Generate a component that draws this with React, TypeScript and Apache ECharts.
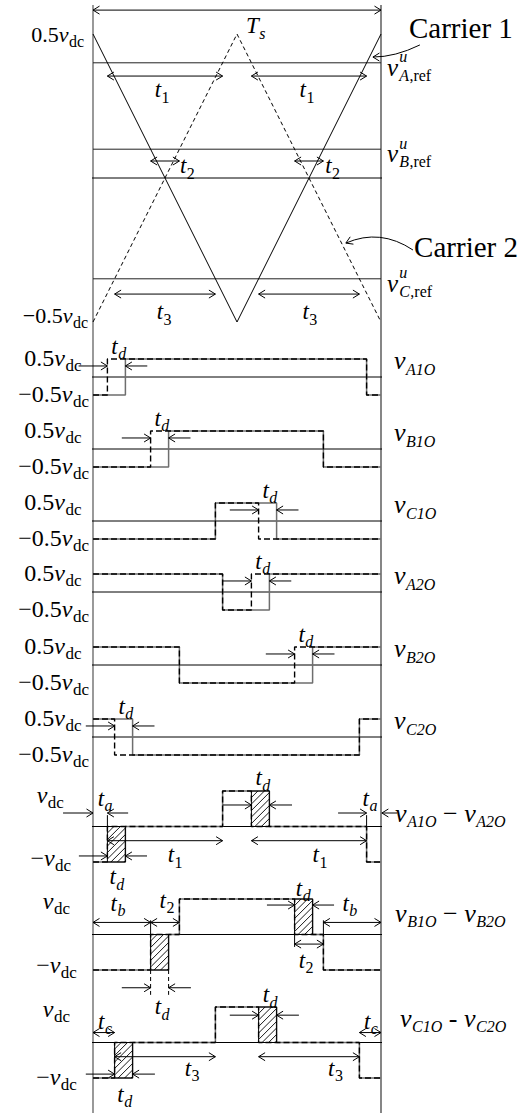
import React, { useEffect, useRef } from "react";
import * as echarts from "echarts";

const FAM = "'Liberation Serif', 'Times New Roman', serif";
const PAGE_W = 523;
const PAGE_H = 1113;

// ---------------- data (normalised time 0..Ts = 0..1) ----------------
const carrierTime = [0, 0.5, 1];
const carrier1 = [0.5, -0.5, 0.5];
const carrier2 = [-0.5, 0.5, -0.5];
const refNames = ["A", "B", "C"];
const refLevels = [0.4, 0.1, -0.35];

const A1O_ideal = [[0, -0.5], [0.05, -0.5], [0.05, 0.5], [0.95, 0.5], [0.95, -0.5], [1, -0.5]];
const A1O_actual = [[0, -0.5], [0.1125, -0.5], [0.1125, 0.5], [0.95, 0.5], [0.95, -0.5], [1, -0.5]];
const B1O_ideal = [[0, -0.5], [0.2, -0.5], [0.2, 0.5], [0.8, 0.5], [0.8, -0.5], [1, -0.5]];
const B1O_actual = [[0, -0.5], [0.2625, -0.5], [0.2625, 0.5], [0.8, 0.5], [0.8, -0.5], [1, -0.5]];
const C1O_ideal = [[0, -0.5], [0.425, -0.5], [0.425, 0.5], [0.575, 0.5], [0.575, -0.5], [1, -0.5]];
const C1O_actual = [[0, -0.5], [0.425, -0.5], [0.425, 0.5], [0.6375, 0.5], [0.6375, -0.5], [1, -0.5]];
const A2O_ideal = [[0, 0.5], [0.45, 0.5], [0.45, -0.5], [0.55, -0.5], [0.55, 0.5], [1, 0.5]];
const A2O_actual = [[0, 0.5], [0.45, 0.5], [0.45, -0.5], [0.6125, -0.5], [0.6125, 0.5], [1, 0.5]];
const B2O_ideal = [[0, 0.5], [0.3, 0.5], [0.3, -0.5], [0.7, -0.5], [0.7, 0.5], [1, 0.5]];
const B2O_actual = [[0, 0.5], [0.3, 0.5], [0.3, -0.5], [0.7625, -0.5], [0.7625, 0.5], [1, 0.5]];
const C2O_ideal = [[0, 0.5], [0.075, 0.5], [0.075, -0.5], [0.925, -0.5], [0.925, 0.5], [1, 0.5]];
const C2O_actual = [[0, 0.5], [0.1375, 0.5], [0.1375, -0.5], [0.925, -0.5], [0.925, 0.5], [1, 0.5]];

const phaseNames = ["A1O", "B1O", "C1O", "A2O", "B2O", "C2O"];
const idealEdges = [0.05, 0.2, 0.575, 0.55, 0.7, 0.075];
const actualEdges = [0.1125, 0.2625, 0.6375, 0.6125, 0.7625, 0.1375];

const dA_ideal = [[0, -1], [0.05, -1], [0.05, 0], [0.45, 0], [0.45, 1], [0.55, 1], [0.55, 0], [0.95, 0], [0.95, -1], [1, -1]];
const dA_actual = [[0, -1], [0.1125, -1], [0.1125, 0], [0.45, 0], [0.45, 1], [0.6125, 1], [0.6125, 0], [0.95, 0], [0.95, -1], [1, -1]];
const dB_ideal = [[0, -1], [0.2, -1], [0.2, 0], [0.3, 0], [0.3, 1], [0.7, 1], [0.7, 0], [0.8, 0], [0.8, -1], [1, -1]];
const dB_actual = [[0, -1], [0.2625, -1], [0.2625, 0], [0.3, 0], [0.3, 1], [0.7625, 1], [0.7625, 0], [0.8, 0], [0.8, -1], [1, -1]];
const dC_ideal = [[0, -1], [0.075, -1], [0.075, 0], [0.425, 0], [0.425, 1], [0.575, 1], [0.575, 0], [0.925, 0], [0.925, -1], [1, -1]];
const dC_actual = [[0, -1], [0.1375, -1], [0.1375, 0], [0.425, 0], [0.425, 1], [0.6375, 1], [0.6375, 0], [0.925, 0], [0.925, -1], [1, -1]];

const hatchA = [[0.05, 0.1125, -1, 0], [0.55, 0.6125, 0, 1]];
const hatchB = [[0.2, 0.2625, -1, 0], [0.7, 0.7625, 0, 1]];
const hatchC = [[0.075, 0.1375, -1, 0], [0.575, 0.6375, 0, 1]];

const phaseIdeal = [A1O_ideal, B1O_ideal, C1O_ideal, A2O_ideal, B2O_ideal, C2O_ideal];
const phaseActual = [A1O_actual, B1O_actual, C1O_actual, A2O_actual, B2O_actual, C2O_actual];
const diffIdeal = [dA_ideal, dB_ideal, dC_ideal];
const diffActual = [dA_actual, dB_actual, dC_actual];

// ---------------- layout ----------------
const X0 = 93;
const XW = 288;
const carrierTop = 34;
const carrierH = 288;
const phaseTop = [359, 431, 503, 574, 647, 719];
const phaseH = 36;
const diffTop = [791, 899, 1007];
const diffH = 71;
const axisExt = [-0.25, 1.253];
const frameTop = 0.9955;

const LM = 24; // left-label main size
const LS = 17; // left-label subscript size
const TM = 23; // time-label main size
const TS = 16; // time-label subscript size

type Part = [string, string];
type Ann =
  | { k: "arrow"; a: number[]; b: number[]; both?: boolean }
  | { k: "text"; at: number[]; parts: Part[]; M: number; S: number; align: "left" | "right" | "center" }
  | { k: "hatch"; r: number[] }
  | { k: "line"; a: number[]; b: number[]; dash?: boolean }
  | { k: "curve"; a: number[]; cp: number[]; b: number[] };

const P_HI: Part[] = [["0.5", "r"], ["v", "i"], ["dc", "b"]];
const P_LO: Part[] = [["\u22120.5", "r"], ["v", "i"], ["dc", "b"]];
const P_VDC: Part[] = [["v", "i"], ["dc", "b"]];
const P_MVDC: Part[] = [["\u2212", "r"], ["v", "i"], ["dc", "b"]];
const tsub = (s: string, it = true): Part[] => [["t", "i"], [s, it ? "ib" : "b"]];

let measureCtx: CanvasRenderingContext2D | null = null;
function measure(s: string, font: string) {
  if (!measureCtx) measureCtx = document.createElement("canvas").getContext("2d");
  if (!measureCtx) return s.length * 8;
  measureCtx.font = font;
  return measureCtx.measureText(s).width;
}

function buildText(x: number, y: number, parts: Part[], M: number, S: number, align: string) {
  const items: any[] = [];
  let cx = 0;
  let supStart: number | null = null;
  let supEnd = 0;
  for (const [s, st] of parts) {
    const it = st.includes("i");
    const sub = st.includes("b");
    const sup = st.includes("p");
    const size = sub || sup ? S : M;
    const font = `${it ? "italic " : ""}${size}px ${FAM}`;
    const w = measure(s, font);
    let px = cx;
    let dy = 0;
    if (sup) {
      px = cx + 1;
      supStart = px;
      supEnd = px + w;
      dy = -0.42 * M;
      cx = supEnd;
    } else if (sub) {
      if (supStart !== null) {
        px = supStart;
        cx = Math.max(supEnd, px + w);
        supStart = null;
      } else {
        px = cx + 0.5;
        cx = px + w;
      }
      dy = 0.32 * M;
    } else {
      px = cx;
      cx = px + w;
    }
    items.push({ s, px, dy, size, it });
  }
  const W = cx;
  const off = align === "right" ? -W : align === "center" ? -W / 2 : 0;
  return items.map((p) => ({
    type: "text",
    x: x + off + p.px,
    y: y + p.dy,
    silent: true,
    style: {
      text: p.s,
      fontSize: p.size,
      fontFamily: FAM,
      fontStyle: p.it ? "italic" : "normal",
      fill: "#000",
      align: "left",
      verticalAlign: "middle",
    },
  }));
}

function seg(x1: number, y1: number, x2: number, y2: number, w = 1, dash?: number[], color = "#000") {
  return {
    type: "line",
    silent: true,
    shape: { x1, y1, x2, y2 },
    style: { stroke: color, lineWidth: w, lineDash: dash, fill: "none" },
  };
}

function head(out: any[], tip: number[], from: number[]) {
  const dx = tip[0] - from[0];
  const dy = tip[1] - from[1];
  const L = Math.hypot(dx, dy) || 1;
  const ux = dx / L;
  const uy = dy / L;
  const hl = 6.5;
  const hw = 4;
  const bx = tip[0] - ux * hl;
  const by = tip[1] - uy * hl;
  out.push(seg(tip[0], tip[1], bx - uy * hw, by + ux * hw));
  out.push(seg(tip[0], tip[1], bx + uy * hw, by - ux * hw));
}

function makeRender(list: Ann[]) {
  return (_params: any, api: any) => {
    const c = (p: number[]) => api.coord(p) as number[];
    const out: any[] = [];
    for (const a of list) {
      if (a.k === "arrow") {
        const p1 = c(a.a);
        const p2 = c(a.b);
        out.push(seg(p1[0], p1[1], p2[0], p2[1]));
        head(out, p2, p1);
        if (a.both) head(out, p1, p2);
      } else if (a.k === "line") {
        const p1 = c(a.a);
        const p2 = c(a.b);
        out.push(seg(p1[0], p1[1], p2[0], p2[1], 1, a.dash ? [4, 3] : undefined));
      } else if (a.k === "curve") {
        const p1 = c(a.a);
        const cp = c(a.cp);
        const p2 = c(a.b);
        out.push({
          type: "bezierCurve",
          silent: true,
          shape: { x1: p1[0], y1: p1[1], x2: p2[0], y2: p2[1], cpx1: cp[0], cpy1: cp[1] },
          style: { stroke: "#000", lineWidth: 1, fill: "none" },
        });
        head(out, p2, cp);
      } else if (a.k === "hatch") {
        const [t0, t1, v0, v1] = a.r;
        const tl = c([t0, v1]);
        const br = c([t1, v0]);
        const x0 = tl[0], y0 = tl[1], x1 = br[0], y1 = br[1];
        out.push({
          type: "rect",
          silent: true,
          shape: { x: x0, y: y0, width: x1 - x0, height: y1 - y0 },
          style: { stroke: "#000", lineWidth: 1, fill: "none" },
        });
        const s = 6.5;
        for (let k = x0 + y0 + s; k < x1 + y1; k += s) {
          const xa = Math.max(x0, k - y1);
          const xb = Math.min(x1, k - y0);
          if (xb > xa) out.push(seg(xa, k - xa, xb, k - xb, 0.9));
        }
      } else if (a.k === "text") {
        const p = c(a.at);
        out.push(...buildText(p[0], p[1], a.parts, a.M, a.S, a.align));
      }
    }
    return { type: "group", children: out };
  };
}

// ---------------- annotations ----------------
const refParts = (n: string): Part[] => [["v", "i"], ["u", "ip"], [n, "ib"], [",ref", "b"]];

const ann0: Ann[] = [
  { k: "arrow", a: [0, 0.583], b: [1, 0.583], both: true },
  { k: "text", at: [0.531, 0.528], parts: [["T", "i"], ["s", "ib"]], M: TM, S: TS, align: "left" },
  { k: "text", at: [-0.031, 0.497], parts: P_HI, M: 22, S: 16, align: "right" },
  { k: "text", at: [-0.017, -0.476], parts: P_LO, M: 22, S: 16, align: "right" },
  { k: "arrow", a: [0.05, 0.354], b: [0.45, 0.354], both: true },
  { k: "arrow", a: [0.55, 0.354], b: [0.95, 0.354], both: true },
  { k: "arrow", a: [0.2, 0.059], b: [0.3, 0.059], both: true },
  { k: "arrow", a: [0.7, 0.059], b: [0.8, 0.059], both: true },
  { k: "arrow", a: [0.075, -0.403], b: [0.425, -0.403], both: true },
  { k: "arrow", a: [0.575, -0.403], b: [0.925, -0.403], both: true },
  { k: "text", at: [0.24, 0.306], parts: tsub("1", false), M: TM, S: TS, align: "center" },
  { k: "text", at: [0.743, 0.306], parts: tsub("1", false), M: TM, S: TS, align: "center" },
  { k: "text", at: [0.302, 0.042], parts: tsub("2", false), M: TM, S: TS, align: "left" },
  { k: "text", at: [0.806, 0.042], parts: tsub("2", false), M: TM, S: TS, align: "left" },
  { k: "text", at: [0.247, -0.465], parts: tsub("3", false), M: TM, S: TS, align: "center" },
  { k: "text", at: [0.753, -0.465], parts: tsub("3", false), M: TM, S: TS, align: "center" },
  ...refLevels.map((lv, i) => ({
    k: "text" as const,
    at: [1.021, lv - 0.015],
    parts: refParts(refNames[i]),
    M: 25,
    S: 16,
    align: "left" as const,
  })),
  { k: "text", at: [1.097, 0.521], parts: [["Carrier 1", "r"]], M: 29, S: 20, align: "left" },
  { k: "text", at: [1.115, -0.24], parts: [["Carrier 2", "r"]], M: 29, S: 20, align: "left" },
  { k: "curve", a: [1.135, 0.462], cp: [1.049, 0.42], b: [0.972, 0.42] },
  { k: "curve", a: [1.111, -0.25], cp: [0.997, -0.174], b: [0.878, -0.226] },
];

const phaseAnns: Ann[][] = phaseNames.map((nm, i) => {
  const ti = idealEdges[i];
  const ta = actualEdges[i];
  return [
    { k: "arrow", a: [ti - 0.1, 0.306], b: [ti, 0.306] },
    { k: "arrow", a: [ta + 0.076, 0.306], b: [ta, 0.306] },
    { k: "text", at: [(ti + ta) / 2 + 0.008, 0.85], parts: tsub("d"), M: TM, S: TS, align: "center" },
    { k: "text", at: [1.045, 0.45], parts: [["v", "i"], [nm, "ib"]], M: 26, S: 16, align: "left" },
    { k: "text", at: [-0.04, 0.53], parts: P_HI, M: LM, S: LS, align: "right" },
    { k: "text", at: [-0.014, -0.47], parts: P_LO, M: LM, S: LS, align: "right" },
  ] as Ann[];
});

const diffLabel = (a: string, b: string, op: string): Part[] => [
  ["v", "i"], [a, "ib"], [op, "r"], ["v", "i"], [b, "ib"],
];

const annA: Ann[] = [
  { k: "arrow", a: [-0.104, 0.38], b: [0, 0.38] },
  { k: "arrow", a: [0.122, 0.38], b: [0.05, 0.38] },
  { k: "arrow", a: [0.851, 0.38], b: [0.95, 0.38] },
  { k: "arrow", a: [1.056, 0.38], b: [1.003, 0.38] },
  { k: "arrow", a: [0.451, 0.606], b: [0.55, 0.606] },
  { k: "arrow", a: [0.691, 0.606], b: [0.6125, 0.606] },
  { k: "arrow", a: [-0.049, -0.83], b: [0.05, -0.83] },
  { k: "arrow", a: [0.1875, -0.83], b: [0.1125, -0.83] },
  { k: "arrow", a: [0.05, -0.4], b: [0.45, -0.4], both: true },
  { k: "arrow", a: [0.55, -0.4], b: [0.95, -0.4], both: true },
  { k: "line", a: [0.05, 0], b: [0.05, 0.32] },
  { k: "line", a: [0.95, 0], b: [0.95, 0.32] },
  { k: "text", at: [0.042, 0.8], parts: tsub("a"), M: TM, S: TS, align: "center" },
  { k: "text", at: [0.962, 0.8], parts: tsub("a"), M: TM, S: TS, align: "center" },
  { k: "text", at: [0.59, 1.37], parts: tsub("d"), M: TM, S: TS, align: "center" },
  { k: "text", at: [0.083, -1.42], parts: tsub("d"), M: TM, S: TS, align: "center" },
  { k: "text", at: [0.285, -0.8], parts: tsub("1", false), M: TM, S: TS, align: "center" },
  { k: "text", at: [0.788, -0.8], parts: tsub("1", false), M: TM, S: TS, align: "center" },
  { k: "text", at: [-0.101, 0.89], parts: P_VDC, M: LM, S: LS, align: "right" },
  { k: "text", at: [-0.076, -0.89], parts: P_MVDC, M: LM, S: LS, align: "right" },
  { k: "text", at: [1.049, 0.38], parts: diffLabel("A1O", "A2O", " \u2212 "), M: 26, S: 16, align: "left" },
  ...hatchA.map((r) => ({ k: "hatch" as const, r })),
];

const annB: Ann[] = [
  { k: "arrow", a: [0, 0.34], b: [0.2, 0.34], both: true },
  { k: "arrow", a: [0.2, 0.34], b: [0.3, 0.34], both: true },
  { k: "arrow", a: [0.8, 0.34], b: [1, 0.34], both: true },
  { k: "arrow", a: [0.7, -0.27], b: [0.8, -0.27], both: true },
  { k: "arrow", a: [0.604, 0.83], b: [0.7, 0.83] },
  { k: "arrow", a: [0.837, 0.83], b: [0.7625, 0.83] },
  { k: "arrow", a: [0.1, -1.5], b: [0.2, -1.5] },
  { k: "arrow", a: [0.34, -1.5], b: [0.2625, -1.5] },
  { k: "line", a: [0.2, 0], b: [0.2, 0.4] },
  { k: "line", a: [0.8, 0], b: [0.8, 0.4] },
  { k: "line", a: [0.7, 0], b: [0.7, -0.35] },
  { k: "line", a: [0.2, -1], b: [0.2, -1.7], dash: true },
  { k: "line", a: [0.2625, -1], b: [0.2625, -1.7], dash: true },
  { k: "text", at: [0.087, 0.87], parts: tsub("b"), M: TM, S: TS, align: "center" },
  { k: "text", at: [0.257, 0.97], parts: tsub("2", false), M: TM, S: TS, align: "center" },
  { k: "text", at: [0.73, 1.3], parts: tsub("d"), M: TM, S: TS, align: "center" },
  { k: "text", at: [0.892, 0.87], parts: tsub("b"), M: TM, S: TS, align: "center" },
  { k: "text", at: [0.74, -0.72], parts: tsub("2", false), M: TM, S: TS, align: "center" },
  { k: "text", at: [0.24, -2.04], parts: tsub("d"), M: TM, S: TS, align: "center" },
  { k: "text", at: [-0.08, 0.94], parts: P_VDC, M: LM, S: LS, align: "right" },
  { k: "text", at: [-0.056, -0.86], parts: P_MVDC, M: LM, S: LS, align: "right" },
  { k: "text", at: [1.049, 0.6], parts: diffLabel("B1O", "B2O", " \u2212 "), M: 26, S: 16, align: "left" },
  ...hatchB.map((r) => ({ k: "hatch" as const, r })),
];

const annC: Ann[] = [
  { k: "arrow", a: [0, 0.28], b: [0.075, 0.28], both: true },
  { k: "arrow", a: [0.925, 0.28], b: [1, 0.28], both: true },
  { k: "arrow", a: [0.075, -0.4], b: [0.425, -0.4], both: true },
  { k: "arrow", a: [0.575, -0.4], b: [0.925, -0.4], both: true },
  { k: "arrow", a: [0.475, 0.77], b: [0.575, 0.77] },
  { k: "arrow", a: [0.715, 0.77], b: [0.6375, 0.77] },
  { k: "arrow", a: [-0.025, -0.89], b: [0.075, -0.89] },
  { k: "arrow", a: [0.215, -0.89], b: [0.1375, -0.89] },
  { k: "text", at: [0.042, 0.6], parts: tsub("c"), M: TM, S: TS, align: "center" },
  { k: "text", at: [0.965, 0.6], parts: tsub("c"), M: TM, S: TS, align: "center" },
  { k: "text", at: [0.344, -0.72], parts: tsub("3", false), M: TM, S: TS, align: "center" },
  { k: "text", at: [0.842, -0.72], parts: tsub("3", false), M: TM, S: TS, align: "center" },
  { k: "text", at: [0.615, 1.34], parts: tsub("d"), M: TM, S: TS, align: "center" },
  { k: "text", at: [0.11, -1.46], parts: tsub("d"), M: TM, S: TS, align: "center" },
  { k: "text", at: [-0.08, 0.94], parts: P_VDC, M: LM, S: LS, align: "right" },
  { k: "text", at: [-0.056, -0.97], parts: P_MVDC, M: LM, S: LS, align: "right" },
  { k: "text", at: [1.066, 0.69], parts: diffLabel("C1O", "C2O", " - "), M: 26, S: 16, align: "left" },
  ...hatchC.map((r) => ({ k: "hatch" as const, r })),
];

// ---------------- option ----------------
function buildOption() {
  const grids: any[] = [];
  const xAxes: any[] = [];
  const yAxes: any[] = [];
  const addGrid = (top: number, height: number, ymin: number, ymax: number) => {
    const i = grids.length;
    grids.push({ left: X0, width: XW, top, height, outerBoundsMode: "none", containLabel: false });
    xAxes.push({ type: "value", gridIndex: i, min: 0, max: 1, show: false });
    yAxes.push({ type: "value", gridIndex: i, min: ymin, max: ymax, show: false });
    return i;
  };
  const g0 = addGrid(carrierTop, carrierH, -0.5, 0.5);
  const gPhase = phaseTop.map((t) => addGrid(t, phaseH, -0.5, 0.5));
  const gDiff = diffTop.map((t) => addGrid(t, diffH, -1, 1));
  const gFrame = addGrid(0, PAGE_H, 0, 1);

  const series: any[] = [];
  const line = (g: number, data: any[], color: string, width: number, dash?: number[] | string, z = 2) =>
    series.push({
      type: "line",
      xAxisIndex: g,
      yAxisIndex: g,
      data,
      symbol: "none",
      showSymbol: false,
      clip: false,
      silent: true,
      z,
      lineStyle: { color, width, type: dash || "solid" },
    });

  // frame
  line(gFrame, [[0, 0], [0, frameTop]], "#808080", 1.6);
  line(gFrame, [[1, 0], [1, frameTop]], "#222", 1.1);

  // carrier section
  line(g0, [[axisExt[0], 0], [axisExt[1], 0]], "#000", 1);
  refLevels.forEach((lv) => line(g0, [[0, lv], [1, lv]], "#222", 1));
  line(g0, carrierTime.map((t, i) => [t, carrier1[i]]), "#000", 1);
  line(g0, carrierTime.map((t, i) => [t, carrier2[i]]), "#000", 1, [4, 3]);

  // phase voltages
  gPhase.forEach((g, i) => {
    line(g, [[axisExt[0], 0], [axisExt[1], 0]], "#000", 1);
    line(g, phaseActual[i], "#6e6e6e", 1.5, undefined, 3);
    line(g, phaseIdeal[i], "#000", 1.4, [6, 3], 4);
  });
  // differences
  gDiff.forEach((g, i) => {
    line(g, [[axisExt[0], 0], [axisExt[1], 0]], "#000", 1);
    line(g, diffActual[i], "#6e6e6e", 1.5, undefined, 3);
    line(g, diffIdeal[i], "#000", 1.4, [6, 3], 4);
  });

  const annots: [number, Ann[]][] = [
    [g0, ann0],
    ...gPhase.map((g, i) => [g, phaseAnns[i]] as [number, Ann[]]),
    [gDiff[0], annA],
    [gDiff[1], annB],
    [gDiff[2], annC],
  ];
  annots.forEach(([g, list]) =>
    series.push({
      type: "custom",
      xAxisIndex: g,
      yAxisIndex: g,
      data: [[0, 0]],
      clip: false,
      silent: true,
      z: 6,
      renderItem: makeRender(list),
    })
  );

  return {
    animation: false,
    backgroundColor: "#fff",
    grid: grids,
    xAxis: xAxes,
    yAxis: yAxes,
    series,
  };
}

export default function App() {
  const ref = useRef<HTMLDivElement>(null);
  useEffect(() => {
    if (!ref.current) return;
    const chart = echarts.init(ref.current, undefined, { renderer: "svg" });
    chart.setOption(buildOption() as any);
    return () => chart.dispose();
  }, []);
  return (
    <div
      ref={ref}
      style={{ position: "absolute", left: 0, top: 0, width: PAGE_W, height: PAGE_H, background: "#fff" }}
    />
  );
}
